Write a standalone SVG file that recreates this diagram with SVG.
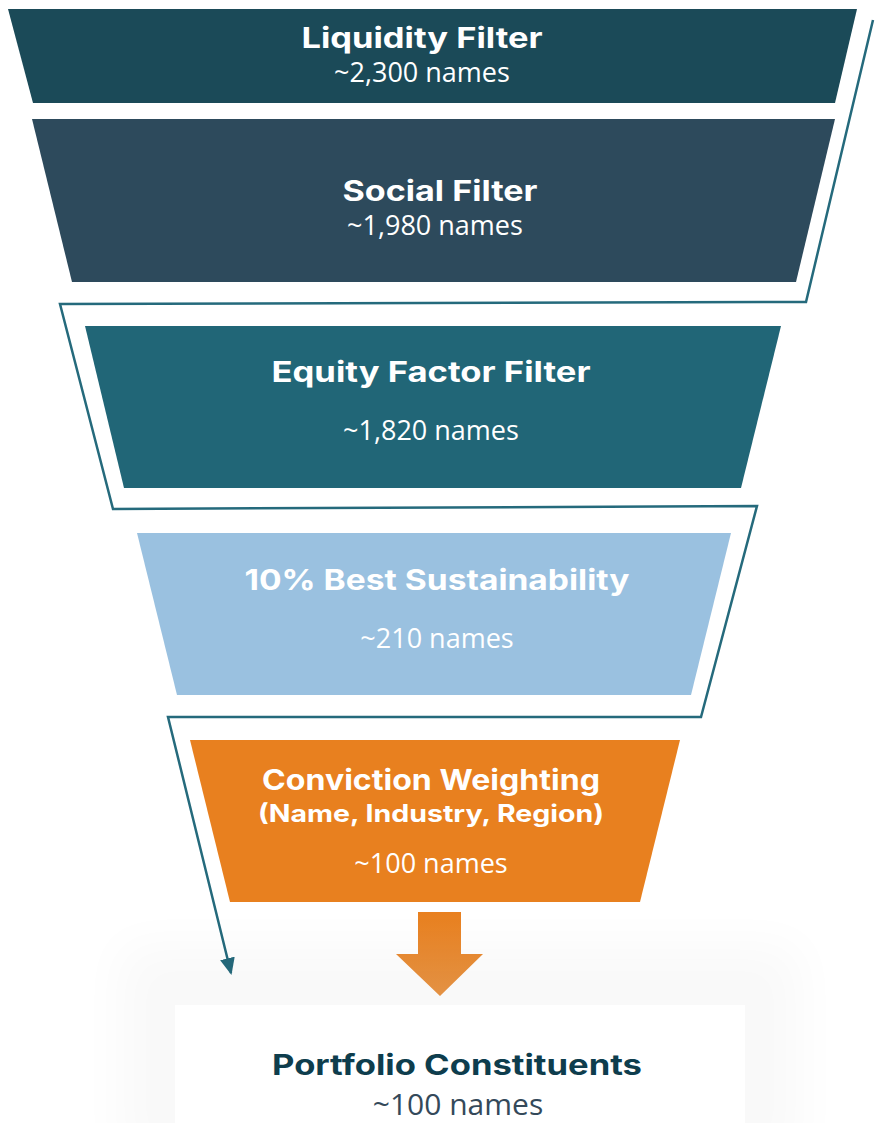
<svg xmlns="http://www.w3.org/2000/svg" width="875" height="1123" viewBox="0 0 875 1123">
<style>
.t{font-family:Inter,"Liberation Sans",sans-serif;font-weight:700;font-size:28px;fill:#ffffff;text-anchor:middle}
.s{font-family:"Open Sans","Liberation Sans",sans-serif;font-size:27px;fill:#ffffff;text-anchor:middle}
.conn{fill:none;stroke:#256A7C;stroke-width:2.5;stroke-linejoin:miter}
</style>
<defs>
<marker id="ah" markerWidth="17" markerHeight="15" refX="15" refY="7.5" orient="auto" markerUnits="userSpaceOnUse" viewBox="0 0 17 15">
<path d="M0,0 L17,7.5 L0,15 Z" fill="#256A7C"/>
</marker>
<linearGradient id="og" x1="0" y1="0" x2="0" y2="1">
<stop offset="0" stop-color="#E8801F"/>
<stop offset="1" stop-color="#EA9646"/>
</linearGradient>
<filter id="sh" x="-20%" y="-30%" width="140%" height="160%">
<feGaussianBlur stdDeviation="25"/>
</filter>
</defs>
<rect width="875" height="1123" fill="#ffffff"/>
<g id="connectors">
<path class="conn" d="M873,20 L806,302 L60,304 L113,509 L757,506 L701,717 L168,717 L231,973" marker-end="url(#ah)"/>
</g>
<g id="liquidity">
<polygon points="8,9 857,9 835,103 33,103" fill="#1B4A58"/>
<text class="t" x="422" y="48" textLength="241" lengthAdjust="spacingAndGlyphs">Liquidity Filter</text>
<text class="s" x="422" y="82">~2,300 names</text>
</g>
<g id="social">
<polygon points="32,119 835,119 796,282 72,282" fill="#2D4A5C"/>
<text class="t" x="440" y="201" textLength="195" lengthAdjust="spacingAndGlyphs">Social Filter</text>
<text class="s" x="435" y="235">~1,980 names</text>
</g>
<g id="equity">
<polygon points="85,326 781,326 741,488 124,488" fill="#216677"/>
<text class="t" x="431" y="382" textLength="319" lengthAdjust="spacingAndGlyphs">Equity Factor Filter</text>
<text class="s" x="431" y="440">~1,820 names</text>
</g>
<g id="best">
<polygon points="137,533 731,533 691,695 177,695" fill="#9AC1E0"/>
<text class="t" x="437" y="590" textLength="385" lengthAdjust="spacingAndGlyphs">10% Best Sustainability</text>
<text class="s" x="437" y="648">~210 names</text>
</g>
<g id="conviction">
<polygon points="190,740 680,740 640,902 230,902" fill="#E8801F"/>
<text class="t" x="431" y="790" textLength="338" lengthAdjust="spacingAndGlyphs">Conviction Weighting</text>
<text class="t" x="431" y="822" style="font-size:24px" textLength="346" lengthAdjust="spacingAndGlyphs">(Name, Industry, Region)</text>
<text class="s" x="431" y="873">~100 names</text>
</g>
<g id="down-arrow">
<polygon points="418,912 461,912 461,954 483,954 440,996 396,954 418,954" fill="url(#og)"/>
</g>
<g id="portfolio">
<rect x="120" y="945" width="680" height="220" fill="#000000" opacity="0.025" filter="url(#sh)"/>
<rect x="175" y="1005" width="570" height="140" fill="#ffffff"/>
<text class="t" x="457" y="1075" style="fill:#0E3D4D" textLength="370" lengthAdjust="spacingAndGlyphs">Portfolio Constituents</text>
<text class="s" x="458" y="1115" style="fill:#34495A;font-size:30px">~100 names</text>
</g>
</svg>
